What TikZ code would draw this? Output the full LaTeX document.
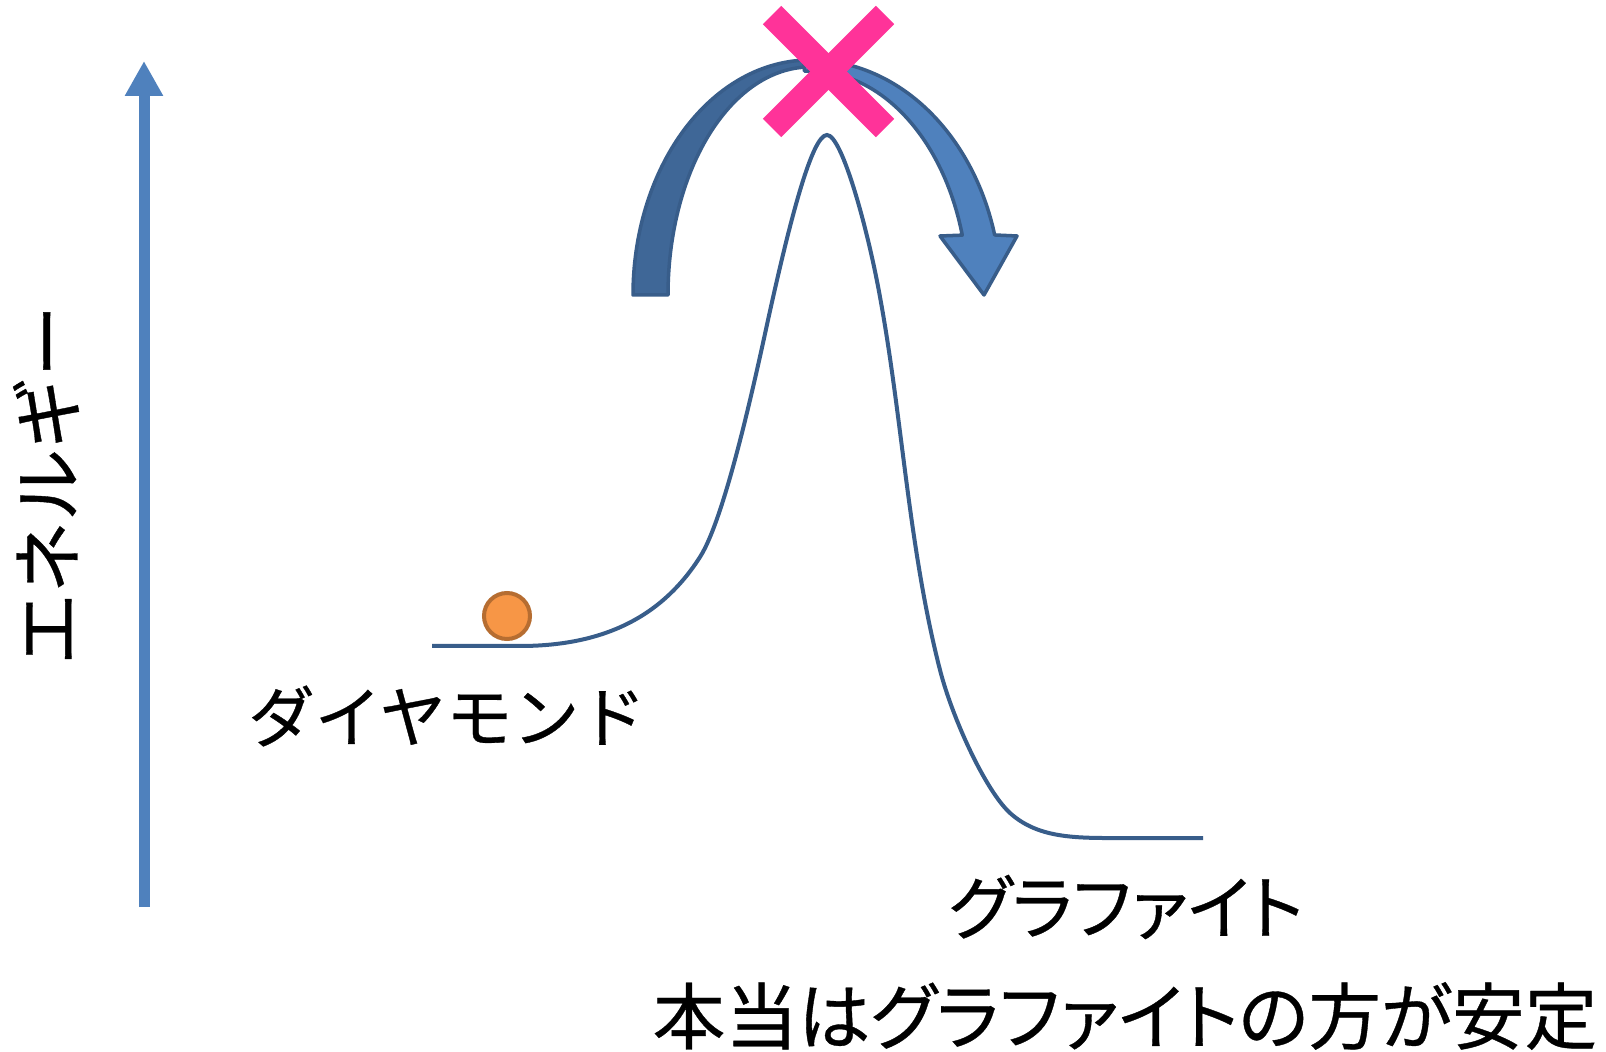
\documentclass[tikz,border=0pt]{standalone}
\usepackage{fontspec}
\newfontfamily\jp[FakeBold=0.5]{Noto Sans CJK JP}
\newfontfamily\jpp[RawFeature=+palt,FakeBold=0.5]{Noto Sans CJK JP}
\usetikzlibrary{arrows.meta}
\definecolor{accent}{HTML}{4F81BD}
\definecolor{accdark}{HTML}{385D8A}
\definecolor{backband}{HTML}{3F6797}
\definecolor{ballfill}{HTML}{F79646}
\definecolor{balledge}{HTML}{B66D31}
\definecolor{crosspink}{HTML}{FF3399}
\begin{document}
\begin{tikzpicture}[x=0.5pt,y=-0.5pt,
  dialabel/.style={font=\jp\fontsize{33.3pt}{34pt}\selectfont, inner sep=0pt, text=black},
  gralabel/.style={font=\jpp\fontsize{35pt}{35pt}\selectfont, inner sep=0pt, text=black},
  jpbig/.style={font=\jpp\fontsize{36.3pt}{37pt}\selectfont, inner sep=0pt, text=black},
  jpaxis/.style={font=\jp\fontsize{36pt}{36pt}\selectfont, inner sep=0pt, text=black, rotate=90},
  ballstyle/.style={circle, fill=ballfill, draw=balledge, line width=2pt, minimum size=23pt, inner sep=0pt},
  bandedge/.style={draw=accdark, line width=1.75pt, line join=round},
  crossbar/.style={crosspink, line width=13pt},
  axisline/.style={accent, line width=5.5pt, -{Triangle[length=17.5pt,width=18pt]}},
  curveline/.style={accdark, line width=2pt}]
\fill[white] (0,0) rectangle (1606,1052);
\useasboundingbox (0,0) rectangle (1606,1052);

% energy axis
\coordinate (axb) at (144,907);
\coordinate (axt) at (144,61);
\draw[axisline] (axb) -- (axt);
\node[jpaxis] (energy) at (46,485) {エネルギー};

% energy curve
\draw[curveline] (432,646) -- (520,646)
  .. controls (610,646) and (665,612) .. (700,557)
  .. controls (725,518) and (755,380) .. (768,320)
  .. controls (790,220) and (812,135) .. (827,135)
  .. controls (842,135) and (868,230) .. (880,297)
  .. controls (902.5,419.5) and (908.75,548.7) .. (940,670)
  .. controls (952,717) and (985,790) .. (1010,813)
  .. controls (1040,840) and (1080,838) .. (1130,838)
  -- (1203,838);

% ball
\node[ballstyle] (ball) at (507,616) {};

% curved arrow: back band
\filldraw[fill=backband, bandedge]
  plot[domain=180:85, samples=70] ({810+177*cos(\x)},{295-235*sin(\x)})
  -- plot[domain=85:180, samples=70] ({810+142*cos(\x)},{295-228*sin(\x)}) -- cycle;
% curved arrow: front band with head
\filldraw[fill=accent, bandedge]
  plot[domain=92:14.8, samples=70] ({810+191*cos(\x)},{295-235*sin(\x)})
  -- (1017,236) -- (984,295) -- (940,236)
  -- plot[domain=15.5:92, samples=70] ({810+158*cos(\x)},{295-224*sin(\x)}) -- cycle;

% cross
\coordinate (c1) at (772,15);
\coordinate (c2) at (885,128);
\coordinate (c3) at (885,15);
\coordinate (c4) at (772,128);
\draw[crossbar] (c1) -- (c2);
\draw[crossbar] (c3) -- (c4);

% labels
\node[dialabel] (dia) at (447,716) {ダイヤモンド};
\node[gralabel] (gra) at (1126,907) {グラファイト};
\node[jpbig] (note) at (1125,1016) {本当はグラファイトの方が安定};
\end{tikzpicture}
\end{document}
